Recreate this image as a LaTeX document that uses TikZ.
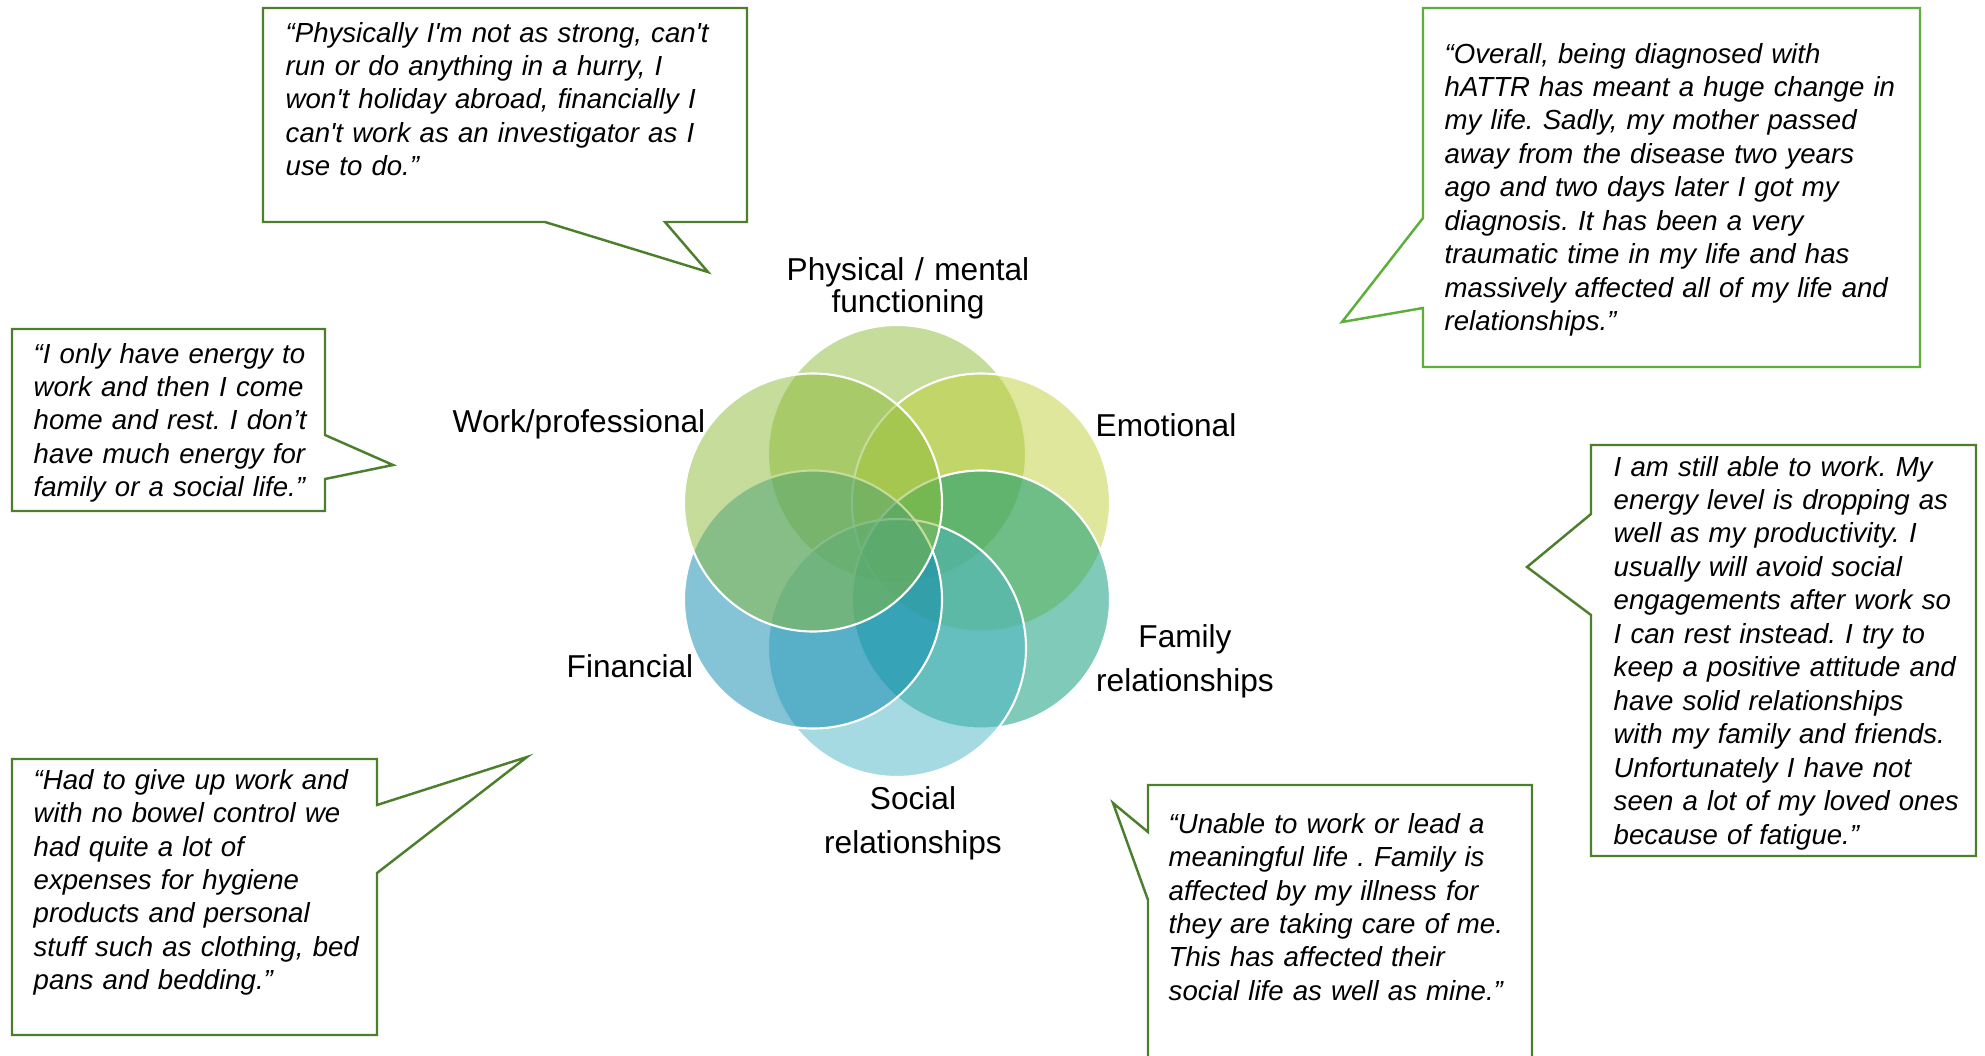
\documentclass[tikz,border=0pt]{standalone}
\usepackage{fontspec}
\setmainfont{Liberation Sans}
\newfontfamily\quotefont{Liberation Sans}
\usetikzlibrary{positioning}
\frenchspacing
\definecolor{phys}{HTML}{8BB937}
\definecolor{emot}{HTML}{BFCF39}
\definecolor{fami}{HTML}{019573}
\definecolor{soci}{HTML}{4BB5C5}
\definecolor{fina}{HTML}{0B87AF}
\definecolor{work}{HTML}{8BB937}
\definecolor{boxline}{HTML}{4C7F2C}
\definecolor{boxlite}{HTML}{5DAE3B}

\begin{document}
\begin{tikzpicture}[
  quote/.style={font=\quotefont\itshape\fontsize{7.85}{9.53}\selectfont,anchor=base west,inner sep=0pt,text width=#1,align=left},
  callout/.style={boxline,line width=0.7pt,line join=miter},
  lbl/.style={font=\fontsize{9}{#1}\selectfont,anchor=base,inner sep=0pt,text width=3.6cm,align=center}]
\useasboundingbox (0,0) rectangle (19.85,-10.56);

% the six circles, clockwise from the top
\begin{scope}[shift={(8.97,-5.51)}]
\foreach \a/\c in {90/phys,30/emot,-30/fami,-90/soci,-150/fina,150/work}
  \draw[white,line width=0.6pt,fill=\c,fill opacity=0.5] (\a:0.97) circle (1.29);
\end{scope}

\node[lbl=9.2pt] (lphys) at (9.08,-2.80) {Physical / mental\\functioning};
\node[lbl=9pt] (lwork) at (5.79,-4.32) {Work/professional};
\node[lbl=9pt] (lemot) at (11.66,-4.36) {Emotional};
\node[lbl=12.6pt] (lfami) at (11.85,-6.47) {Family\\relationships};
\node[lbl=9pt] (lfina) at (6.30,-6.77) {Financial};
\node[lbl=12.6pt] (lsoci) at (9.13,-8.09) {Social\\relationships};

% callouts
\draw[callout] (2.63,-0.08) -- (7.47,-0.08) -- (7.47,-2.22) -- (6.65,-2.22) -- (7.08,-2.72) -- (5.45,-2.22) -- (2.63,-2.22) -- cycle;
\node[quote=4.7cm] (qphys) at (2.85,-0.42) {“Physically I'm not as strong, can't\\run or do anything in a hurry, I\\won't holiday abroad, financially I\\can't work as an investigator as I\\use to do.”};

\draw[callout,boxlite] (14.23,-0.08) -- (19.20,-0.08) -- (19.20,-3.67) -- (14.23,-3.67) -- (14.23,-3.08) -- (13.42,-3.22) -- (14.23,-2.18) -- cycle;
\node[quote=4.7cm] (qover) at (14.44,-0.63) {“Overall, being diagnosed with\\hATTR has meant a huge change in\\my life. Sadly, my mother passed\\away from the disease two years\\ago and two days later I got my\\diagnosis. It has been a very\\traumatic time in my life and has\\massively affected all of my life and\\relationships.”};

\draw[callout] (0.12,-3.29) -- (3.25,-3.29) -- (3.25,-4.35) -- (3.93,-4.65) -- (3.25,-4.79) -- (3.25,-5.11) -- (0.12,-5.11) -- cycle;
\node[quote=2.9cm] (qenergy) at (0.33,-3.63) {“I only have energy to\\work and then I come\\home and rest. I don’t\\have much energy for\\family or a social life.”};

\draw[callout] (15.91,-4.45) -- (19.76,-4.45) -- (19.76,-8.56) -- (15.91,-8.56) -- (15.91,-6.15) -- (15.27,-5.67) -- (15.91,-5.14) -- cycle;
\node[quote=3.6cm] (qable) at (16.13,-4.76) {I am still able to work. My\\energy level is dropping as\\well as my productivity. I\\usually will avoid social\\engagements after work so\\I can rest instead. I try to\\keep a positive attitude and\\have solid relationships\\with my family and friends.\\Unfortunately I have not\\seen a lot of my loved ones\\because of fatigue.”};

\draw[callout] (0.12,-7.59) -- (3.77,-7.59) -- (3.77,-8.05) -- (5.27,-7.57) -- (3.77,-8.73) -- (3.77,-10.35) -- (0.12,-10.35) -- cycle;
\node[quote=3.4cm] (qhad) at (0.33,-7.89) {“Had to give up work and\\with no bowel control we\\had quite a lot of\\expenses for hygiene\\products and personal\\stuff such as clothing, bed\\pans and bedding.”};

\draw[callout] (11.48,-10.70) -- (11.48,-9.00) -- (11.13,-8.03) -- (11.48,-8.32) -- (11.48,-7.85) -- (15.32,-7.85) -- (15.32,-10.70);
\node[quote=3.6cm] (qunable) at (11.68,-8.33) {“Unable to work or lead a\\meaningful life . Family is\\affected by my illness for\\they are taking care of me.\\This has affected their\\social life as well as mine.”};

\end{tikzpicture}
\end{document}
